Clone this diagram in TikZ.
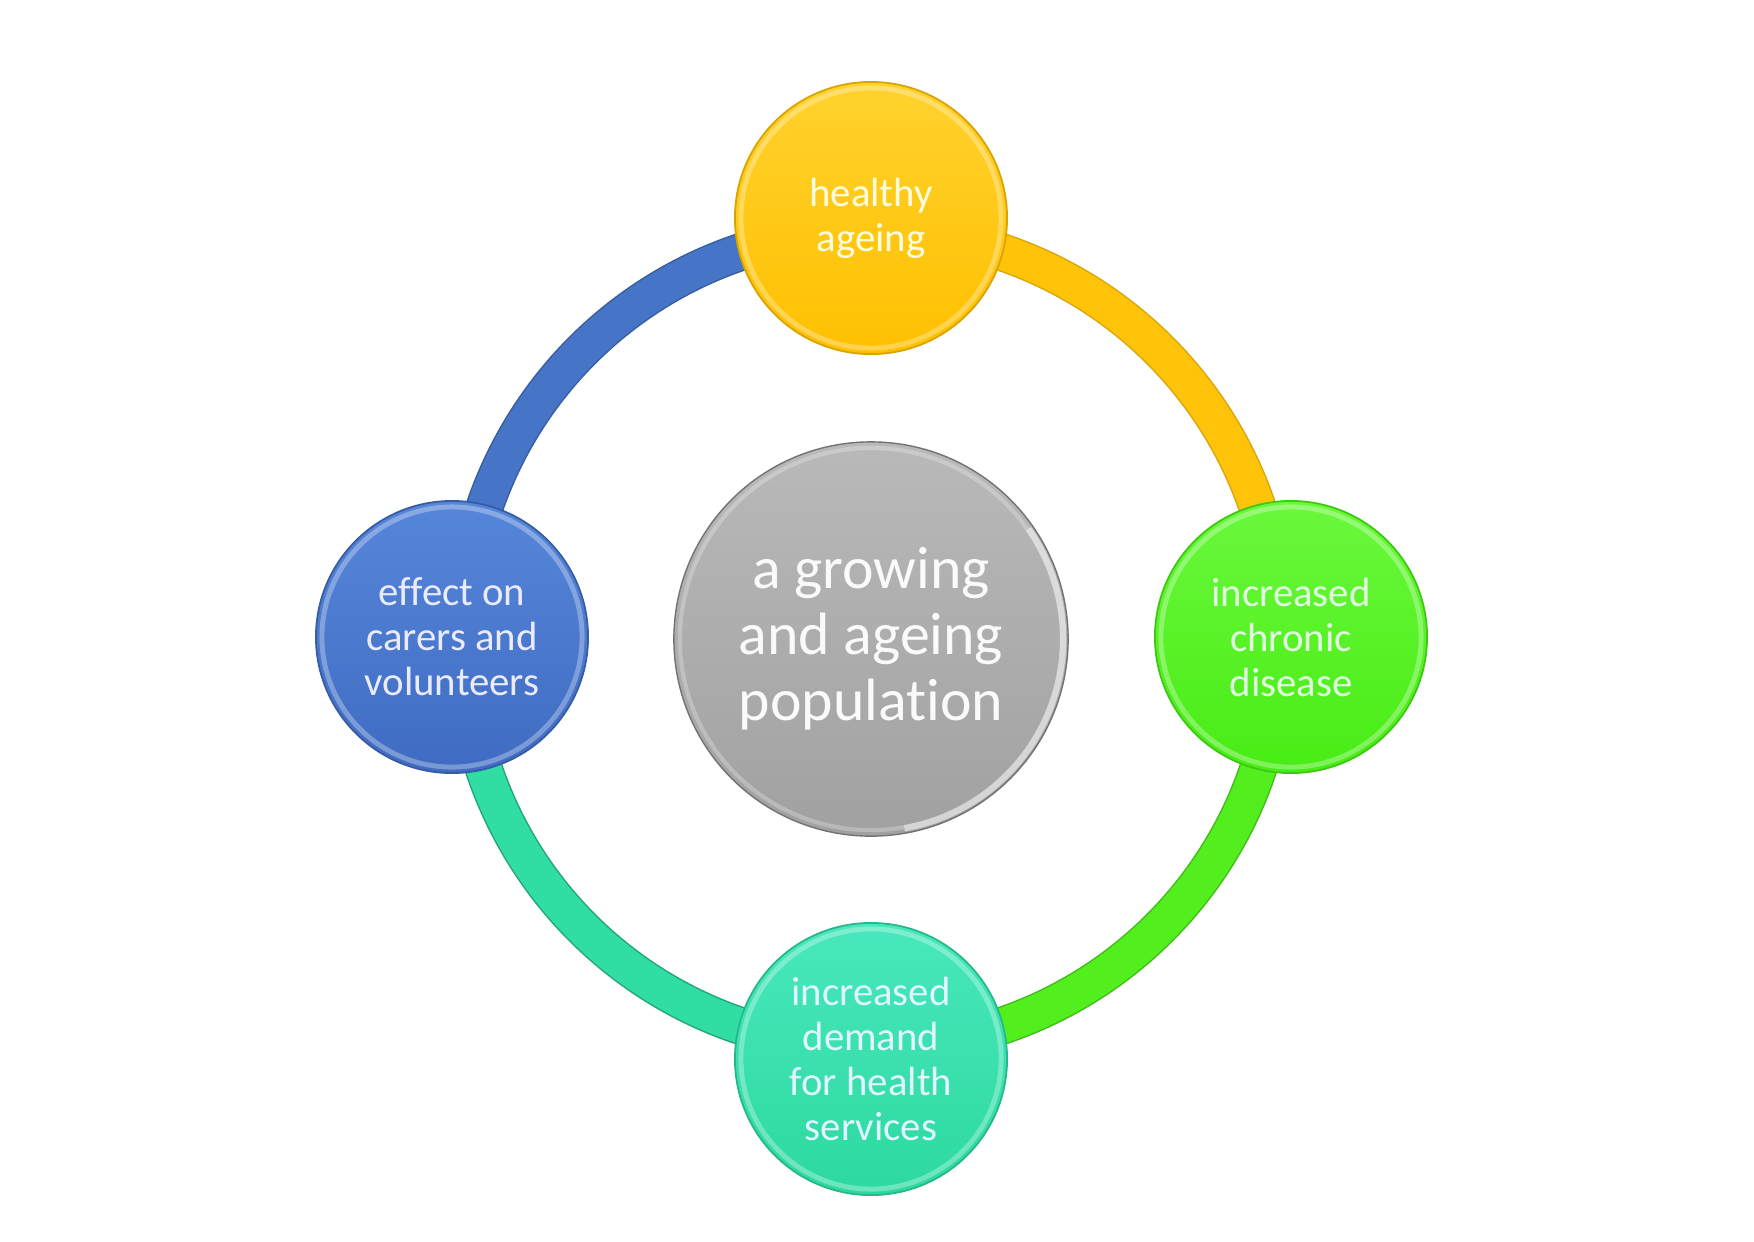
\documentclass[tikz,border=0pt]{standalone}
\usepackage{fontspec}
\setmainfont{Carlito}[Ligatures=NoCommon]
\definecolor{yelA}{HTML}{FFD22E}
\definecolor{yelB}{HTML}{FFC000}
\definecolor{yelR}{HTML}{FFC40A}
\definecolor{bluA}{HTML}{5686DA}
\definecolor{bluB}{HTML}{3F6CC2}
\definecolor{bluR}{HTML}{4675C8}
\definecolor{grnA}{HTML}{6AF83C}
\definecolor{grnB}{HTML}{48EC14}
\definecolor{grnR}{HTML}{52EE1E}
\definecolor{tlA}{HTML}{48E8BC}
\definecolor{tlB}{HTML}{2DD9A0}
\definecolor{tlR}{HTML}{30DDA2}
\definecolor{gryA}{HTML}{B9B9B9}
\definecolor{gryB}{HTML}{A1A1A1}
\begin{document}
\begin{tikzpicture}[x=0.01cm,y=-0.01cm,
  outer/.style={circle,minimum size=2.72cm,inner sep=0pt,align=center,
    font=\fontsize{11.6}{12.8}\selectfont,line width=0.5pt,
    path picture={\draw[white,opacity=0.3,line width=1.4pt]
      (path picture bounding box.center) circle (1.30cm);}},
  inner/.style={circle,minimum size=3.94cm,inner sep=0pt,align=center,
    font=\fontsize{17}{18.8}\selectfont,line width=0.4pt,
    path picture={\draw[white,opacity=0.55,line width=1.8pt]
      ([shift={(-80:1.92cm)}]path picture bounding box.center)
      arc[start angle=-80,end angle=35,radius=1.92cm];
      \draw[white,opacity=0.25,line width=1.2pt]
      ([shift={(35:1.91cm)}]path picture bounding box.center)
      arc[start angle=35,end angle=280,radius=1.91cm];}},
  ringedge/.style={line width=0.38cm},
  ringfill/.style={line width=0.35cm}
]
\useasboundingbox[fill=white] (0,0) rectangle (1754,1241);

\coordinate (c) at (871,639);

% ring arcs
\draw[ringedge,bluR!80!black] (c) ++(90:4.08cm) arc[start angle=90,end angle=180,radius=4.08cm];
\draw[ringfill,bluR] (c) ++(90:4.08cm) arc[start angle=90,end angle=180,radius=4.08cm];
\draw[ringedge,yelR!85!black] (c) ++(0:4.08cm) arc[start angle=0,end angle=90,radius=4.08cm];
\draw[ringfill,yelR] (c) ++(0:4.08cm) arc[start angle=0,end angle=90,radius=4.08cm];
\draw[ringedge,grnR!80!black] (c) ++(270:4.08cm) arc[start angle=270,end angle=360,radius=4.08cm];
\draw[ringfill,grnR] (c) ++(270:4.08cm) arc[start angle=270,end angle=360,radius=4.08cm];
\draw[ringedge,tlR!75!black] (c) ++(180:4.08cm) arc[start angle=180,end angle=270,radius=4.08cm];
\draw[ringfill,tlR] (c) ++(180:4.08cm) arc[start angle=180,end angle=270,radius=4.08cm];

% nodes
\node[inner,top color=gryA,bottom color=gryB,draw=gray!90!black,text=white!96!gray]
  (mid) at (c) {a growing\\and ageing\\population};
\node[outer,top color=yelA,bottom color=yelB,draw=yelB!85!black,text=white!88!yellow]
  (top) at (871,218) {healthy\\ageing};
\node[outer,top color=bluA,bottom color=bluB,draw=bluB!85!black,text=white!92!blue]
  (left) at (452,637) {effect on\\carers and\\volunteers};
\node[outer,top color=grnA,bottom color=grnB,draw=grnB!85!black,text=white!88!green]
  (right) at (1291,637) {increased\\chronic\\disease};
\node[outer,top color=tlA,bottom color=tlB,draw=tlB!85!black,text=white!88!cyan]
  (bottom) at (871,1059) {increased\\demand\\for health\\services};
\end{tikzpicture}
\end{document}
